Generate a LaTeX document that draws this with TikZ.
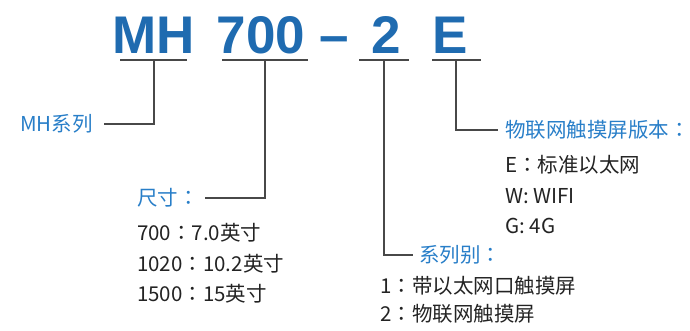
\documentclass[tikz,border=0pt]{standalone}
\usepackage{fontspec}
\setmainfont{Noto Sans CJK SC}
\newfontfamily\titlefont{Liberation Sans}
\newfontfamily\tcfont{Noto Sans CJK TC}
\newcommand\fcolon{{\tcfont ：}}
\usetikzlibrary{positioning}

\definecolor{titleblue}{RGB}{31,107,176}
\definecolor{labelblue}{RGB}{40,126,200}
\definecolor{linegray}{RGB}{72,72,72}
\definecolor{textdark}{RGB}{35,35,35}

\begin{document}
\begin{tikzpicture}[x=1pt,y=-1pt]
        \tikzstyle{code}=[font=\titlefont\bfseries\fontsize{53}{53}\selectfont,text=titleblue,inner sep=0pt,anchor=base]
        \tikzstyle{label}=[font=\fontsize{20.5}{20.5}\selectfont,text=labelblue,inner xsep=0pt,inner ysep=7.5pt,text height=15pt,text depth=0pt,anchor=west]
        \tikzstyle{item}=[label,text=textdark]
        \tikzstyle{bar}=[draw=linegray,line width=1.6pt]
        \tikzstyle{wire}=[draw=linegray,line width=1.4pt]
        \useasboundingbox (0,0) rectangle (690,330);

        % model code
        \node[code] (mh) at (154,53) {MH};
        \node[code] (size) at (261,53) {700};
        \node[code] (dash) at (334.5,53) {–};
        \node[code] (series) at (386,53) {2};
        \node[code] (iot) at (450,53) {E};

        \coordinate (mhBar) at (154,60);
        \coordinate (sizeBar) at (265,60);
        \coordinate (seriesBar) at (384,60);
        \coordinate (iotBar) at (456,60);
        \draw[bar] ([xshift=-34pt]mhBar) -- ([xshift=33pt]mhBar);
        \draw[bar] ([xshift=-43pt]sizeBar) -- ([xshift=43pt]sizeBar);
        \draw[bar] ([xshift=-25pt]seriesBar) -- ([xshift=25pt]seriesBar);
        \draw[bar] ([xshift=-24pt]iotBar) -- ([xshift=25pt]iotBar);

        % MH
        \node[label] (mhLbl) at (20,124) {MH系列};
        \draw[wire] (mhBar) |- ([xshift=11pt]mhLbl.east);

        % size
        \node[label] (sizeLbl) at (137,198) {尺寸\fcolon};
        \node[item] (size1) [below=5pt of sizeLbl.south west,anchor=north west] {700\fcolon 7.0英寸};
        \node[item] (size2) [below=0pt of size1.south west,anchor=north west] {1020\fcolon 10.2英寸};
        \node[item] (size3) [below=0pt of size2.south west,anchor=north west] {1500\fcolon 15英寸};
        \draw[wire] (sizeBar) |- ([xshift=6pt]sizeLbl.east);

        % series
        \node[label] (seriesLbl) at (419,255) {系列别\fcolon};
        \node[item] (series1) at (380,286) {1\fcolon 带以太网口触摸屏};
        \node[item] (series2) [below=-2pt of series1.south west,anchor=north west] {2\fcolon 物联网触摸屏};
        \draw[wire] (seriesBar) |- ([xshift=-6pt]seriesLbl.west);

        % iot
        \node[label] (iotLbl) at (505,130) {物联网触摸屏版本\fcolon};
        \node[item] (iot1) [below=5pt of iotLbl.south west,anchor=north west] {E\fcolon 标准以太网};
        \node[item] (iot2) [below=0pt of iot1.south west,anchor=north west] {W: WIFI};
        \node[item] (iot3) [below=0pt of iot2.south west,anchor=north west] {G: 4G};
        \draw[wire] (iotBar) |- ([xshift=-7pt]iotLbl.west);
    \end{tikzpicture}
\end{document}
